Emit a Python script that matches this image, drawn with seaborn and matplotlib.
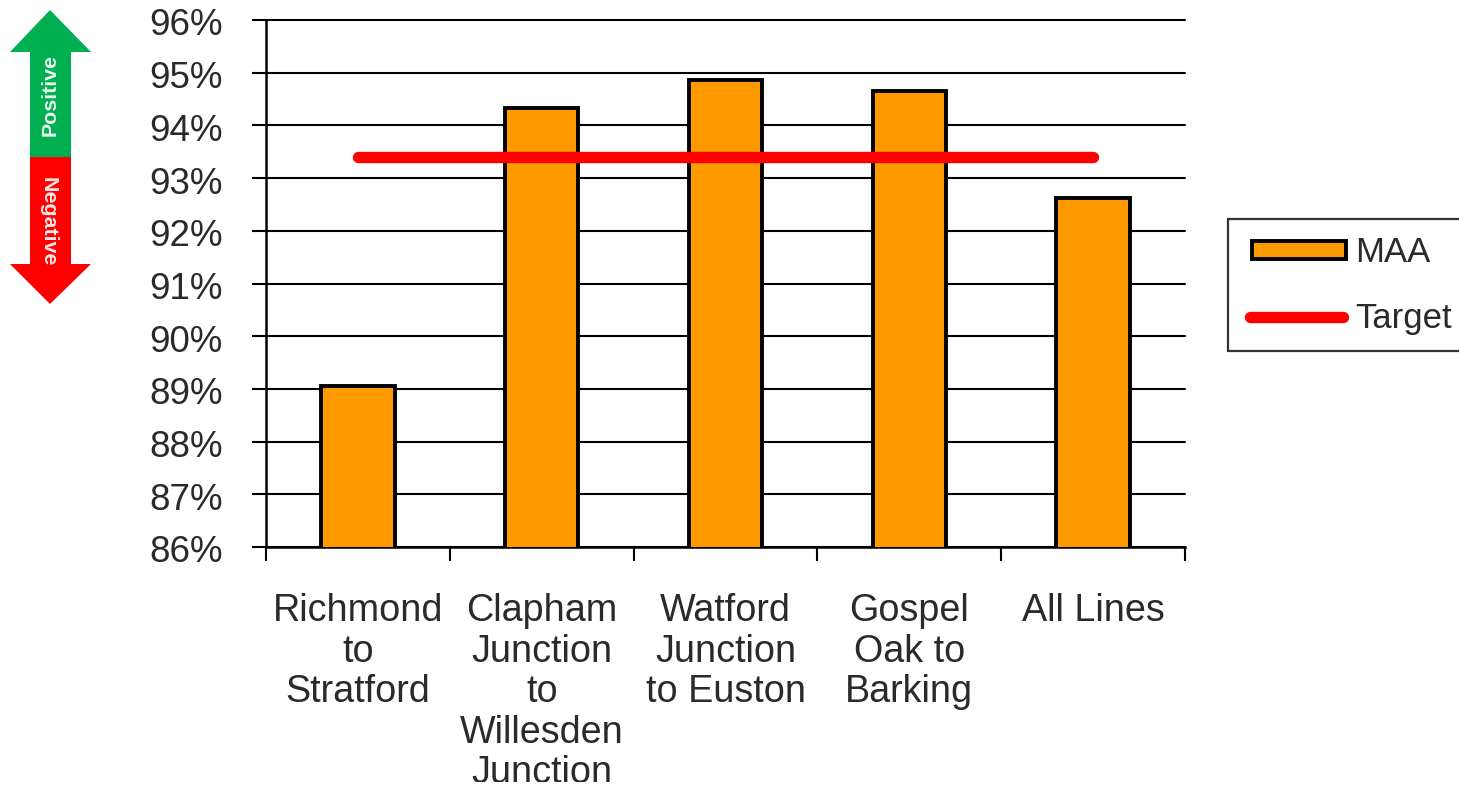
import numpy as np
import pandas as pd
import matplotlib
matplotlib.use("Agg")
import matplotlib.pyplot as plt
from matplotlib.patches import Patch, Polygon
from matplotlib.lines import Line2D
from matplotlib.transforms import Bbox, ScaledTranslation
import seaborn as sns

categories = ["Richmond\nto\nStratford", "Clapham\nJunction\nto\nWillesden\nJunction",
              "Watford\nJunction\nto Euston", "Gospel\nOak to\nBarking", "All Lines"]
maa = [89.05, 94.33, 94.86, 94.65, 92.62]
target = [93.4, 93.4, 93.4, 93.4, 93.4]
y_ticks = [86, 87, 88, 89, 90, 91, 92, 93, 94, 95, 96]
series_names = ["MAA", "Target"]
arrow_labels = ["Positive", "Negative"]

sns.set_theme(style="white")
plt.rcParams["font.family"] = ["Liberation Sans", "DejaVu Sans"]
W, H = 1459, 786
INK = "#2a2a2a"
fig = plt.figure(figsize=(W / 100, H / 100), dpi=100, facecolor="white")
ax = fig.add_axes([266 / W, 1 - 547 / H, (1185 - 266) / W, (547 - 20) / H])

df = pd.DataFrame({"line": categories, "maa": maa, "target": target})
sns.barplot(data=df, x="line", y="maa", color="#FF9900", saturation=1, width=0.4,
            edgecolor="black", linewidth=2.8, ax=ax, zorder=3, bottom=0)
sns.lineplot(data=df, x="line", y="target", color="#FF0000", linewidth=8.2, ax=ax,
             zorder=4, solid_capstyle="round", errorbar=None)
ax.set_xlim(-0.5, 4.5)
ax.set_ylim(86, 96)
ax.set_xlabel("")
ax.set_ylabel("")
ax.set_yticks(y_ticks)
ax.set_yticklabels([f"{v}%" for v in y_ticks], fontsize=26.5, color=INK)
ax.tick_params(axis="y", left=True, length=10, width=1.5, color="black", pad=21)
ax.yaxis.grid(True, color="black", linewidth=1.5, zorder=1, clip_on=False)
ax.set_axisbelow(True)
ax.set_xticks(range(5))
ax.set_xticklabels(categories, fontsize=27.2, color=INK, linespacing=1.16, va="top")
ax.set_xticks(np.arange(-0.5, 5, 1), minor=True)
ax.tick_params(axis="x", which="major", bottom=False, length=0, pad=33.3)
ax.tick_params(axis="x", which="minor", bottom=True, length=10, width=1.5, color="black")
for s in ["top", "right"]:
    ax.spines[s].set_visible(False)
for s in ["left", "bottom"]:
    ax.spines[s].set_linewidth(1.8)
    ax.spines[s].set_color("black")

shift_down = ScaledTranslation(0, -2 / 100, fig.dpi_scale_trans)
for t in ax.get_yticklabels():
    t.set_transform(t.get_transform() + shift_down)

clip = Bbox([[0, H - 782], [W, H]])
for t in ax.get_xticklabels():
    t.set_clip_box(clip)
    t.set_clip_on(True)

handles = [Patch(facecolor="#FF9900", edgecolor="black", linewidth=2.8),
           Line2D([0], [0], color="#FF0000", linewidth=8.2, solid_capstyle="round")]
leg = fig.legend(handles, series_names, loc="upper left",
                 bbox_to_anchor=(1228 / W, 1 - 219 / H), bbox_transform=fig.transFigure,
                 fontsize=25, frameon=True, fancybox=False, edgecolor="#333333",
                 framealpha=1, handlelength=2.85, handleheight=0.4, handletextpad=0.344,
                 labelspacing=0.95, borderpad=0.48, borderaxespad=0, labelcolor=INK)
leg.get_frame().set_linewidth(1.6)
swatch = leg.legend_handles[0]
swatch.set_x(swatch.get_x() + 5.5)
swatch.set_width(swatch.get_width() - 4)
swatch.set_y(swatch.get_y() - 0.7)
tline = leg.legend_handles[1]
tx = np.asarray(tline.get_xdata(), dtype=float)
ty = np.asarray(tline.get_ydata(), dtype=float)
tline.set_data([tx[0] + 3.6, tx[-1] - 0.5], [ty[0], ty[-1]])

ov = fig.add_axes([0, 0, 1, 1], facecolor="none", zorder=-1)
ov.set_xlim(0, W)
ov.set_ylim(H, 0)
ov.axis("off")
ov.add_patch(Polygon([(50, 10), (91, 52), (71, 52), (71, 157), (30, 157), (30, 52), (10, 52)],
                     closed=True, facecolor="#00B050", edgecolor="none"))
ov.add_patch(Polygon([(30, 157), (71, 157), (71, 264), (91, 264), (50, 304), (10, 264), (30, 264)],
                     closed=True, facecolor="#FF0000", edgecolor="none"))
ov.text(50, 95.5, arrow_labels[0], rotation=90, color="#E8F8EE", fontsize=15.4, fontweight="bold",
        ha="center", va="center")
ov.text(48.5, 222, arrow_labels[1], rotation=270, color="#FFE8E8", fontsize=15.4, fontweight="bold",
        ha="center", va="center")

fig.savefig("out.png", dpi=100)
